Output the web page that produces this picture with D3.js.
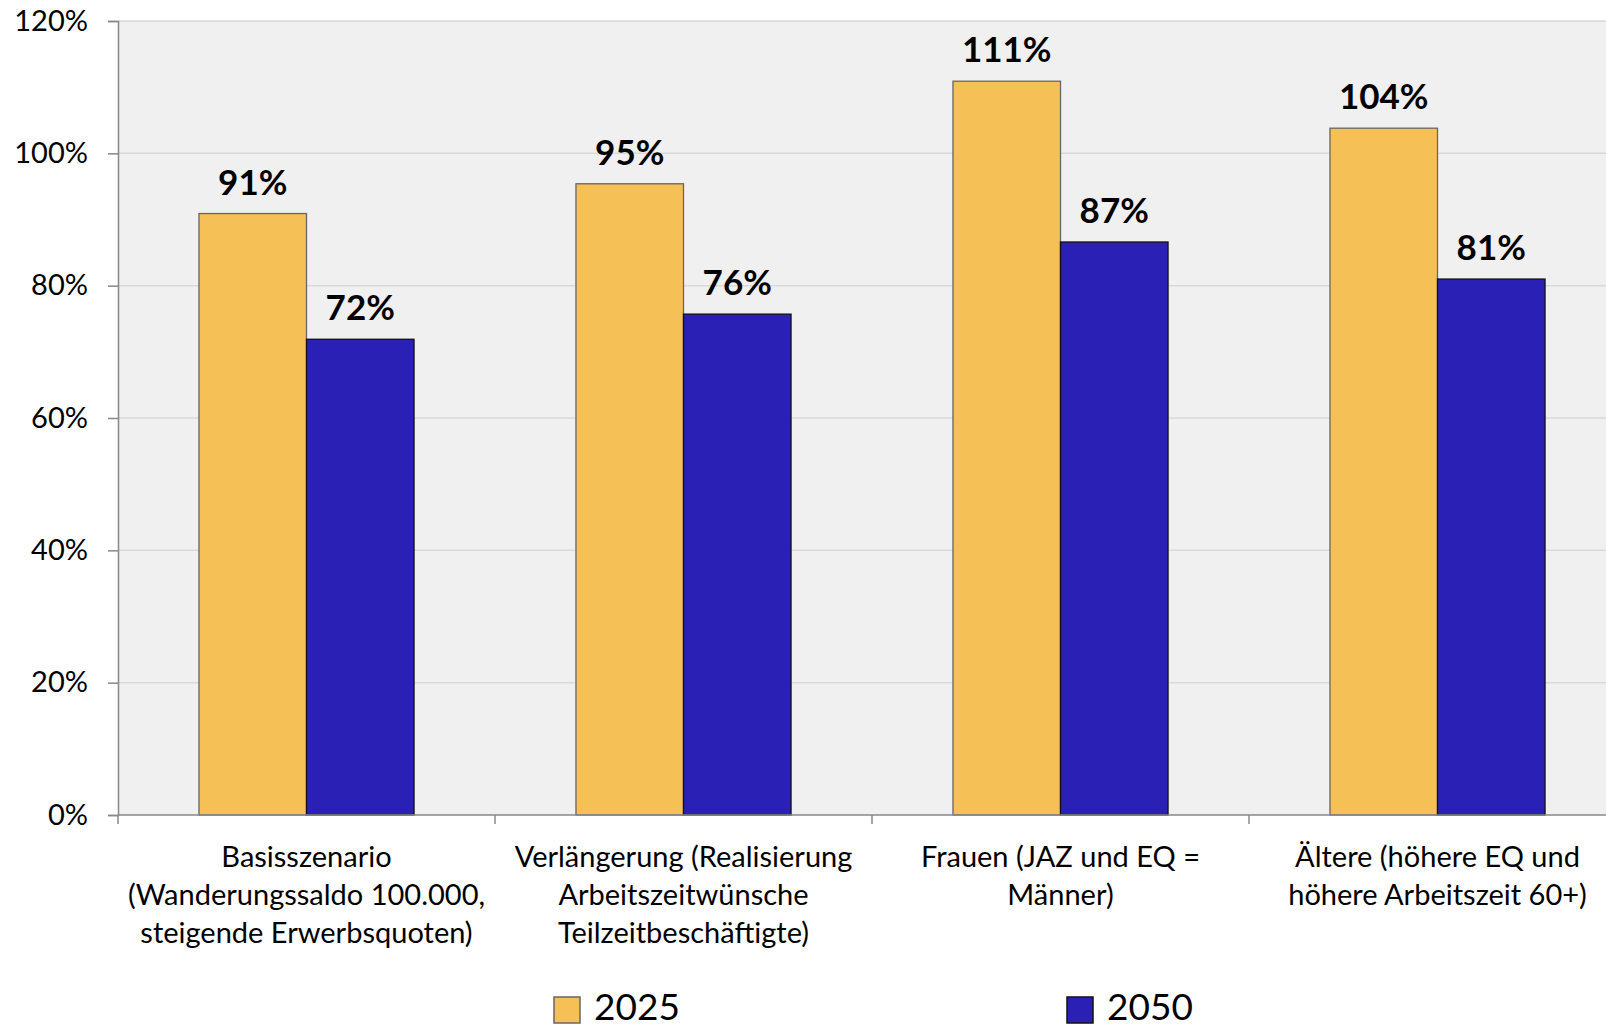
<!DOCTYPE html>
<html>
<head>
<meta charset="utf-8">
<script src="https://cdn.jsdelivr.net/npm/d3@7"></script>
<style>
    html, body { margin: 0; padding: 0; background: #fff; }
    svg { display: block; font-family: Lato, "Open Sans", sans-serif; }
</style>
</head>
<body>
<div id="chart"></div>
<script>
// scenario labels, broken into lines as in the original chart
const categories = ["basis", "verlaengerung", "frauen", "aeltere"];
const categoryLines = [
    ["Basisszenario", "(Wanderungssaldo 100.000,", "steigende Erwerbsquoten)"],
    ["Verlängerung (Realisierung", "Arbeitszeitwünsche", "Teilzeitbeschäftigte)"],
    ["Frauen (JAZ und EQ =", "Männer)"],
    ["Ältere (höhere EQ und", "höhere Arbeitszeit 60+)"]
];
const series = ["2025", "2050"];
const values2025 = [90.9, 95.4, 110.9, 103.8];
const values2050 = [71.9, 75.7, 86.6, 81.0];
const yTicks = [0, 20, 40, 60, 80, 100, 120];

const width = 1606, height = 1028;
const margin = {top: 21, left: 118, bottom: 815};
const colors = {"2025": "#f5c055", "2050": "#2b20b5"};
const strokes = {"2025": "#666666", "2050": "#111111"};

const rows = categories.map((c, i) => ({cat: c, "2025": values2025[i], "2050": values2050[i]}));

const svg = d3.select("#chart")
    .append("svg")
    .attr("width", width)
    .attr("height", height);

// the band for each scenario is ~377px; the last one runs past the right edge
const x = d3.scaleBand()
    .domain(categories)
    .range([margin.left, margin.left + 4 * 377])
    .padding(0);

const xs = d3.scaleBand()
    .domain(series)
    .range([0, x.bandwidth()])
    .paddingInner(0)
    .paddingOuter(0.753);

const y = d3.scaleLinear()
    .domain([0, 120])
    .range([margin.bottom, margin.top]);

// plot background
svg.append("rect")
    .attr("x", margin.left)
    .attr("y", y(120))
    .attr("width", width - margin.left)
    .attr("height", y(0) - y(120))
    .attr("fill", "#f0f0f0");

// gridlines
svg.append("g")
    .selectAll("line")
    .data(yTicks.filter(d => d > 0))
    .join("line")
    .attr("x1", margin.left)
    .attr("x2", width)
    .attr("y1", d => y(d))
    .attr("y2", d => y(d))
    .attr("stroke", "#d9d9d9")
    .attr("stroke-width", 1.5);

// bars
const groups = svg.append("g")
    .selectAll("g")
    .data(rows)
    .join("g")
    .attr("transform", d => `translate(${x(d.cat)},0)`);

groups.selectAll("rect")
    .data(d => series.map(s => ({key: s, value: d[s]})))
    .join("rect")
    .attr("x", d => xs(d.key))
    .attr("y", d => y(d.value))
    .attr("width", xs.bandwidth())
    .attr("height", d => y(0) - y(d.value))
    .attr("fill", d => colors[d.key])
    .attr("stroke", d => strokes[d.key])
    .attr("stroke-width", 1.3);

groups.selectAll("text")
    .data(d => series.map(s => ({key: s, value: d[s]})))
    .join("text")
    .attr("x", d => xs(d.key) + xs.bandwidth() / 2)
    .attr("y", d => y(d.value) - 19)
    .attr("text-anchor", "middle")
    .attr("font-size", 35)
    .attr("font-weight", "bold")
    .attr("fill", "#000")
    .text(d => Math.round(d.value) + "%");

// y axis
const yAxis = svg.append("g")
    .attr("transform", `translate(${margin.left},0)`)
    .call(d3.axisLeft(y).tickValues(yTicks).tickFormat(d => d + "%").tickSize(10).tickPadding(20));
yAxis.select(".domain").attr("stroke", "#888").attr("stroke-width", 1.5);
yAxis.selectAll(".tick line").attr("stroke", "#888").attr("stroke-width", 1.5);
yAxis.selectAll(".tick text")
    .attr("font-size", 29)
    .attr("font-family", "Lato, sans-serif")
    .attr("fill", "#000");

// x axis line with ticks at the band edges
svg.append("line")
    .attr("x1", margin.left)
    .attr("x2", width)
    .attr("y1", y(0))
    .attr("y2", y(0))
    .attr("stroke", "#888")
    .attr("stroke-width", 1.5);

svg.append("g")
    .selectAll("line")
    .data(categories)
    .join("line")
    .attr("x1", d => x(d))
    .attr("x2", d => x(d))
    .attr("y1", y(0))
    .attr("y2", y(0) + 9)
    .attr("stroke", "#888")
    .attr("stroke-width", 1.5);

// category labels
svg.append("g")
    .selectAll("text")
    .data(categories)
    .join("text")
    .attr("text-anchor", "middle")
    .attr("font-size", 29)
    .attr("fill", "#000")
    .each(function(d, i) {
        d3.select(this).selectAll("tspan")
            .data(categoryLines[i])
            .join("tspan")
            .attr("x", x(d) + x.bandwidth() / 2)
            .attr("y", (l, j) => 867 + j * 38)
            .text(l => l);
    });

// legend
const legendX = [554, 1067];
const legend = svg.append("g")
    .selectAll("g")
    .data(series)
    .join("g")
    .attr("transform", (d, i) => `translate(${legendX[i]},997)`);

legend.append("rect")
    .attr("width", 26)
    .attr("height", 26)
    .attr("fill", d => colors[d])
    .attr("stroke", d => strokes[d])
    .attr("stroke-width", 1.5);

legend.append("text")
    .attr("x", 40)
    .attr("y", 23)
    .attr("font-size", 37)
    .attr("fill", "#000")
    .text(d => d);
</script>
</body>
</html>
